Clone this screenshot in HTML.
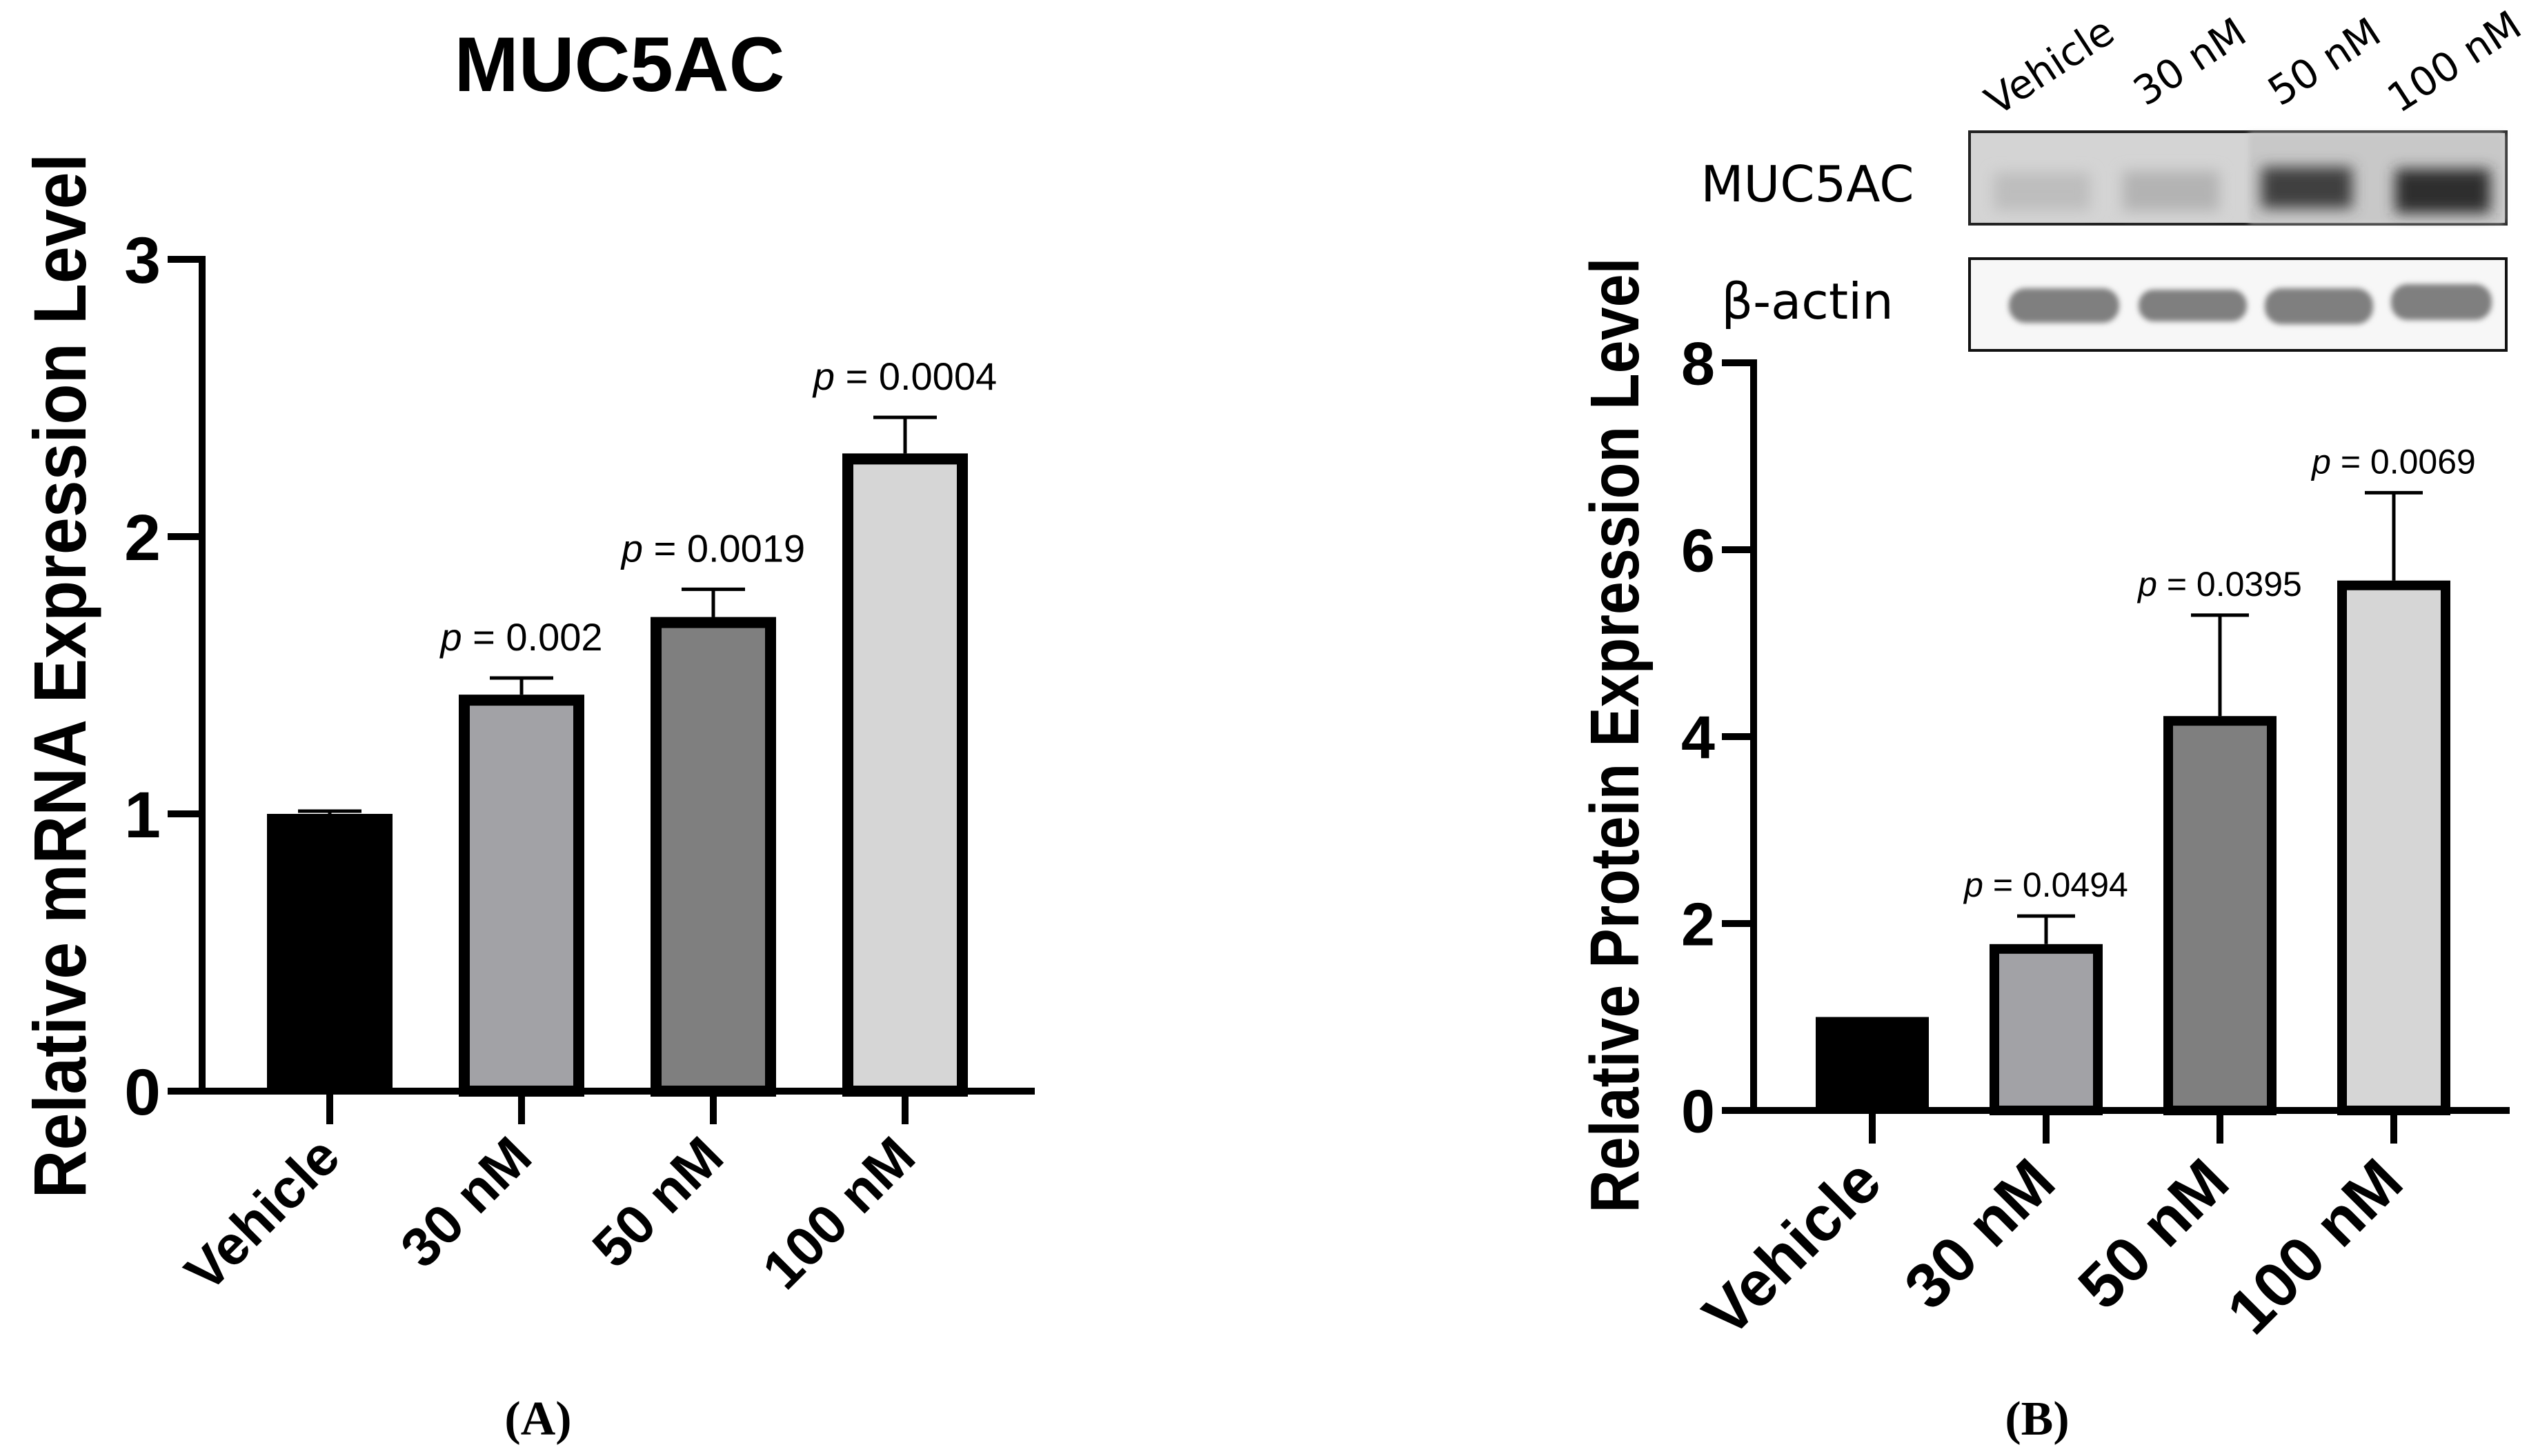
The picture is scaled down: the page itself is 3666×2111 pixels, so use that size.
<!DOCTYPE html>
<html><head><meta charset="utf-8"><style>
html,body{margin:0;padding:0;background:#fff}
svg{display:block}
text{font-family:"Liberation Sans",sans-serif}
</style></head><body>
<svg id="fig" width="3666" height="2111" viewBox="0 0 3666 2111" xmlns="http://www.w3.org/2000/svg">
<defs>
<filter id="blur6" x="-20%" y="-50%" width="140%" height="200%"><feGaussianBlur stdDeviation="10"/></filter>
<filter id="blur3" x="-20%" y="-50%" width="140%" height="200%"><feGaussianBlur stdDeviation="4"/></filter>
</defs>
<g id="panelA"></g>
<g id="panelB"></g>
<g id="blot">
  <text x="2620" y="292" font-size="72" text-anchor="middle" style="font-family:'DejaVu Sans',sans-serif">MUC5AC</text>
  <text x="2620" y="462" font-size="72" text-anchor="middle" style="font-family:'DejaVu Sans',sans-serif">β-actin</text>
  <rect x="2855" y="191" width="778" height="134" fill="#d4d4d4" stroke="#222" stroke-width="4"/>
  <rect x="3260" y="193" width="370" height="130" fill="#c8c8c8" filter="url(#blur3)"/>
  <g>
    <rect x="2890" y="250" width="140" height="55" fill="#bdbdbd" filter="url(#blur6)"/>
    <rect x="3077" y="248" width="140" height="58" fill="#b3b3b3" filter="url(#blur6)"/>
    <rect x="3278" y="242" width="132" height="60" fill="#404040" filter="url(#blur6)"/>
    <rect x="3472" y="245" width="138" height="64" fill="#2e2e2e" filter="url(#blur6)"/>
  </g>
  <rect x="2855" y="375" width="778" height="133" fill="#f7f7f7" stroke="#111" stroke-width="4"/>
  <g fill="#7f7f7f" filter="url(#blur3)">
    <rect x="2912" y="418" width="160" height="50" rx="24"/>
    <rect x="3100" y="420" width="157" height="46" rx="22"/>
    <rect x="3283" y="418" width="157" height="52" rx="24"/>
    <rect x="3466" y="412" width="146" height="52" rx="24"/>
  </g>
  <text transform="translate(2895,169) rotate(-33)" font-size="58" style="font-family:'DejaVu Sans',sans-serif">Vehicle</text>
  <text transform="translate(3110,155) rotate(-33)" font-size="58" style="font-family:'DejaVu Sans',sans-serif">30 nM</text>
  <text transform="translate(3305,155) rotate(-33)" font-size="58" style="font-family:'DejaVu Sans',sans-serif">50 nM</text>
  <text transform="translate(3478,165) rotate(-33)" font-size="58" style="font-family:'DejaVu Sans',sans-serif">100 nM</text>
</g>
<text x="780" y="2080" font-size="70" font-weight="bold" text-anchor="middle" style="font-family:'Liberation Serif',serif">(A)</text>
<text x="2953" y="2080" font-size="70" font-weight="bold" text-anchor="middle" style="font-family:'Liberation Serif',serif">(B)</text>
</svg>
<script>
const categories = ["Vehicle", "30 nM", "50 nM", "100 nM"];
const mrnaValues = [1.0, 1.43, 1.71, 2.30];
const mrnaErrors = [0.01, 0.06, 0.10, 0.13];
const mrnaPLabels = ["", "0.002", "0.0019", "0.0004"];
const mrnaTicks = [0, 1, 2, 3];
const proteinValues = [1.0, 1.78, 4.22, 5.67];
const proteinErrors = [0, 0.30, 1.08, 0.94];
const proteinPLabels = ["", "0.0494", "0.0395", "0.0069"];
const proteinTicks = [0, 2, 4, 6, 8];
const barFills = ["#000000", "#a2a2a6", "#7f7f7f", "#d6d6d6"];

const NS = "http://www.w3.org/2000/svg";
function mk(parent, tag, attrs, txt){
  const e = document.createElementNS(NS, tag);
  for (const k in attrs) e.setAttribute(k, attrs[k]);
  if (txt !== undefined) e.textContent = txt;
  parent.appendChild(e);
  return e;
}

function drawPanel(g, cfg){
  const y = v => cfg.y0 - (v / cfg.ymax) * (cfg.y0 - cfg.yTop);
  const x = i => cfg.first + i * cfg.band;
  if (cfg.title){
    const t = mk(g, "text", {x: cfg.titleX, y: cfg.titleY, "font-size": 112, "font-weight": "bold", "text-anchor": "middle"}, cfg.title);
    
    
  }
  const yl = mk(g, "text", {transform: `translate(${cfg.ylX},${cfg.ylY}) rotate(-90)`, "font-size": cfg.ylSize, "font-weight": "bold", "text-anchor": "middle", textLength: cfg.ylLen, lengthAdjust: "spacingAndGlyphs"}, cfg.ylabel);
  
  
  cfg.values.forEach((v, i) => {
    const cx = x(i), hw = cfg.barW / 2;
    const sw = i === 0 ? 0 : cfg.bw;
    if (cfg.errors[i] > 0){
      const eb = mk(g, "path", {d: `M${cx},${y(v)} V${y(v + cfg.errors[i])} M${cx - cfg.capW/2},${y(v + cfg.errors[i])} H${cx + cfg.capW/2}`, stroke: "#000", "stroke-width": 5, fill: "none"});
      
      
    }
    const r = mk(g, "rect", {x: cx - hw + sw/2, y: y(v) + sw/2, width: cfg.barW - sw, height: Math.max(0, y(0) - y(v) - sw/2), fill: barFills[i], stroke: "#000", "stroke-width": sw});
    
    
    if (cfg.plabels[i]){
      const pt = mk(g, "text", {x: cx, y: y(v + cfg.errors[i]) - cfg.pGap, "font-size": cfg.pSize, "text-anchor": "middle"});
      
      
      mk(pt, "tspan", {"font-style": "italic"}, "p");
      mk(pt, "tspan", {}, " = " + cfg.plabels[i]);
    }
    const xt = mk(g, "line", {x1: cx, x2: cx, y1: cfg.y0, y2: cfg.y0 + 48, stroke: "#000", "stroke-width": 10});
    
    
    const lbl = mk(g, "text", {transform: `translate(${cx + cfg.lblDx},${cfg.lblY}) rotate(-45)`, "font-size": cfg.xlSize, "font-weight": "bold", "text-anchor": "end"}, categories[i]);
    
    
  });
  const ax = mk(g, "path", {d: `M${cfg.x0},${cfg.yTop - 5} V${cfg.y0} H${cfg.xEnd}`, stroke: "#000", "stroke-width": 10, fill: "none"});
  
  
  cfg.ticks.forEach(t => {
    const tl = mk(g, "line", {x1: cfg.x0 - cfg.tickLen, x2: cfg.x0, y1: y(t), y2: y(t), stroke: "#000", "stroke-width": 10});
    
    
    const tt = mk(g, "text", {x: cfg.x0 - cfg.tickLen - 10, y: y(t) + cfg.tickSize * 0.36, "font-size": cfg.tickSize, "font-weight": "bold", "text-anchor": "end"}, String(t));
    
    
  });
}

drawPanel(document.getElementById("panelA"), {
  title: "MUC5AC", titleX: 898, titleY: 132,
  ylabel: "Relative mRNA Expression Level", ylX: 124, ylY: 980, ylSize: 108, ylLen: 1515,
  x0: 293, y0: 1582, yTop: 376, ymax: 3, first: 478, band: 278, barW: 182, bw: 16, capW: 92, xEnd: 1500,
  values: mrnaValues, errors: mrnaErrors, plabels: mrnaPLabels, ticks: mrnaTicks, tickLen: 50,
  pSize: 56, pGap: 40, tickSize: 95, xlSize: 80, lblDx: 19, lblY: 1682
});
drawPanel(document.getElementById("panelB"), {
  title: "",
  ylabel: "Relative Protein Expression Level", ylX: 2375, ylY: 1066, ylSize: 100, ylLen: 1385,
  x0: 2542, y0: 1610, yTop: 526, ymax: 8, first: 2714, band: 252, barW: 164, bw: 14, capW: 84, xEnd: 3638,
  values: proteinValues, errors: proteinErrors, plabels: proteinPLabels, ticks: proteinTicks, tickLen: 46,
  pSize: 50, pGap: 28, tickSize: 88, xlSize: 92, lblDx: 18, lblY: 1719
});
</script>
</body></html>
